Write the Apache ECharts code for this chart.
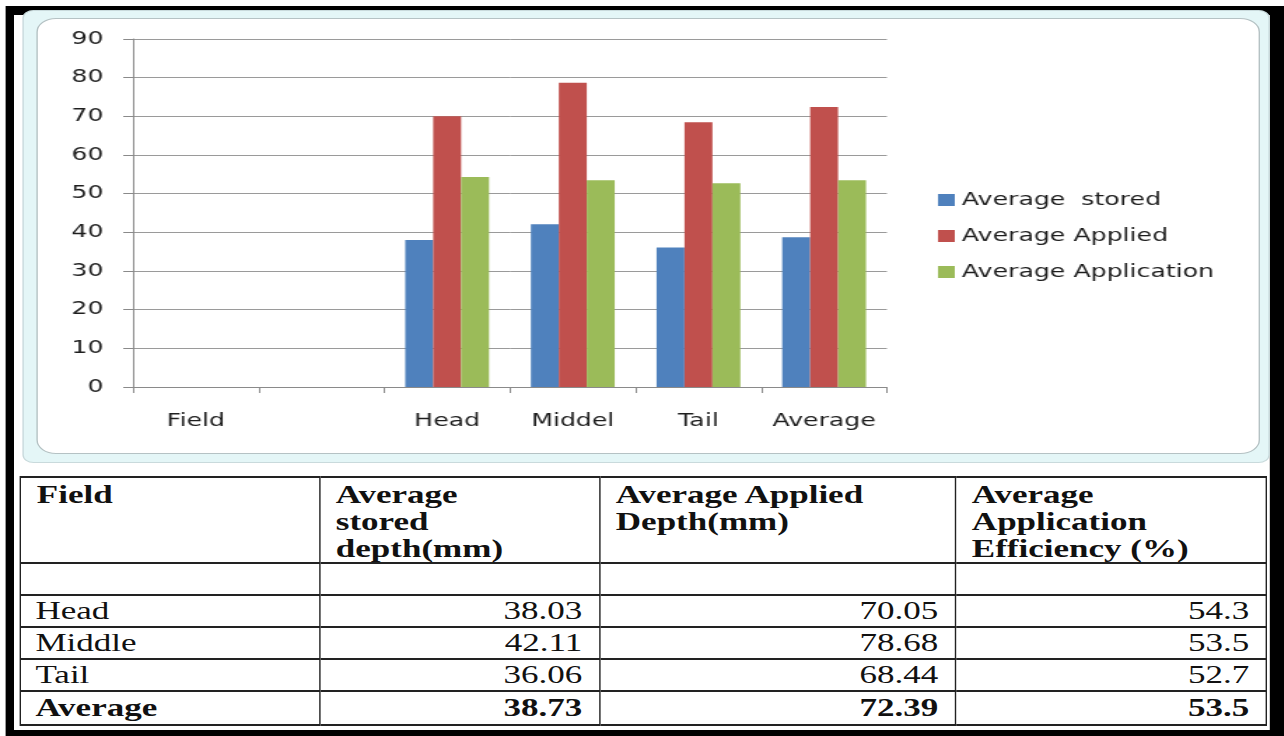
<!DOCTYPE html>
<html>
<head>
<meta charset="utf-8">
<script src="https://cdn.jsdelivr.net/npm/echarts@6/dist/echarts.min.js"></script>
<style>
  html, body { margin: 0; padding: 0; background: #fff; overflow: hidden; }
  /* the source picture is stretched sideways, so the page is laid out narrow and widened */
  #page { position: absolute; left: 0; top: 0; width: 917.14px; height: 736px; transform: scaleX(1.4); transform-origin: 0 0; }
  #blackBox { position: absolute; left: 4.3px; top: 6px; width: 920px; height: 740px; background: #000; }
  #whiteBox { position: absolute; left: 10px; top: 15px; width: 897px; height: 715px; background: #fff; }
  #frame { position: absolute; left: 15.7px; top: 10px; width: 889.3px; height: 451px; background: #e4f6f7; border: 1px solid #c9dadc; border-radius: 8px; }
  #frameInner { position: absolute; left: 26.4px; top: 18px; width: 872px; height: 434px; background: #fff; border: 1px solid #b5c2c4; border-radius: 14px; }
  #chart { position: absolute; left: 0; top: 0; width: 917.14px; height: 470px; }
  #dataTable { position: absolute; left: 14.3px; top: 476px; border-collapse: collapse; table-layout: fixed;
    font-family: "Liberation Serif", "Times New Roman", serif; font-size: 25px; color: #111; }
  #dataTable td { border: 2px solid #222; border-left-width: 1.5px; border-right-width: 1.5px; padding: 0 12px 0 10px; }
  #dataTable tr.head td { font-weight: bold; vertical-align: top; line-height: 27px; padding-top: 3px; padding-left: 11px; height: 81px; }
  #dataTable tr.row td { height: 30px; line-height: 30px; vertical-align: middle; }
  #dataTable tr.last td { font-weight: bold; height: 32px; }
  #dataTable td.num { text-align: right; }
</style>
</head>
<body>
<div id="page">
  <div id="blackBox"></div>
  <div id="whiteBox"></div>
  <div id="frame"></div>
  <div id="frameInner"></div>
  <div id="chart"></div>
  <table id="dataTable">
    <colgroup>
      <col style="width:213.6px"><col style="width:200px"><col style="width:254.3px"><col style="width:222.1px">
    </colgroup>
    <tbody id="tableBody"></tbody>
  </table>
</div>
<script>
  var categories = ['Field', '', 'Head', 'Middel', 'Tail', 'Average'];
  var seriesNames = ['Average  stored', 'Average Applied', 'Average Application'];
  var storedDepth = [null, null, 38.03, 42.11, 36.06, 38.73];
  var appliedDepth = [null, null, 70.05, 78.68, 68.44, 72.39];
  var efficiency = [null, null, 54.3, 53.5, 52.7, 53.5];
  var colors = ['#4f81bd', '#c0504d', '#9bbb59'];

  var tableHeader = [['Field'], ['Average', 'stored', 'depth(mm)'], ['Average Applied', 'Depth(mm)'], ['Average', 'Application', 'Efficiency (%)']];
  var tableRows = ['Head', 'Middle', 'Tail', 'Average'];

  // table below the chart
  var body = document.getElementById('tableBody');
  var html = '<tr class="head">';
  tableHeader.forEach(function (lines) { html += '<td>' + lines.join('<br>') + '</td>'; });
  html += '</tr><tr class="row"><td></td><td></td><td></td><td></td></tr>';
  tableRows.forEach(function (name, i) {
    var k = i + 2;
    var cls = i === tableRows.length - 1 ? 'row last' : 'row';
    html += '<tr class="' + cls + '"><td>' + name + '</td>' +
      '<td class="num">' + storedDepth[k] + '</td>' +
      '<td class="num">' + appliedDepth[k] + '</td>' +
      '<td class="num">' + efficiency[k] + '</td></tr>';
  });
  body.innerHTML = html;

  var myChart = echarts.init(document.getElementById('chart'));
  var font = 'DejaVu Sans';
  myChart.setOption({
    animation: false,
    color: colors,
    grid: { left: 95, right: 283.5, top: 39, bottom: 83 },
    legend: {
      orient: 'vertical',
      left: 665,
      top: 186,
      itemWidth: 12,
      itemHeight: 12,
      itemGap: 18,
      icon: 'rect',
      textStyle: { fontFamily: font, fontSize: 18, color: '#1e1e1e' },
      data: seriesNames
    },
    xAxis: {
      type: 'category',
      data: categories,
      axisLine: { lineStyle: { color: '#8a8a8a', width: 1 } },
      axisTick: { show: true, length: 6, lineStyle: { color: '#8a8a8a' } },
      axisLabel: { margin: 25, fontFamily: font, fontSize: 18, color: '#1e1e1e', interval: 0 },
      splitLine: { show: false }
    },
    yAxis: {
      type: 'value',
      min: 0,
      max: 90,
      interval: 10,
      axisLine: { show: true, lineStyle: { color: '#8a8a8a', width: 1 } },
      axisTick: { show: true, length: 7, lineStyle: { color: '#8a8a8a' } },
      axisLabel: { margin: 21, fontFamily: font, fontSize: 18, color: '#1e1e1e' },
      splitLine: { show: true, lineStyle: { color: '#9a9a9a', width: 1 } }
    },
    series: [
      { name: seriesNames[0], type: 'bar', data: storedDepth, barGap: '0%', barCategoryGap: '33.3%' },
      { name: seriesNames[1], type: 'bar', data: appliedDepth, barGap: '0%', barCategoryGap: '33.3%' },
      { name: seriesNames[2], type: 'bar', data: efficiency, barGap: '0%', barCategoryGap: '33.3%' }
    ]
  });
</script>
</body>
</html>
